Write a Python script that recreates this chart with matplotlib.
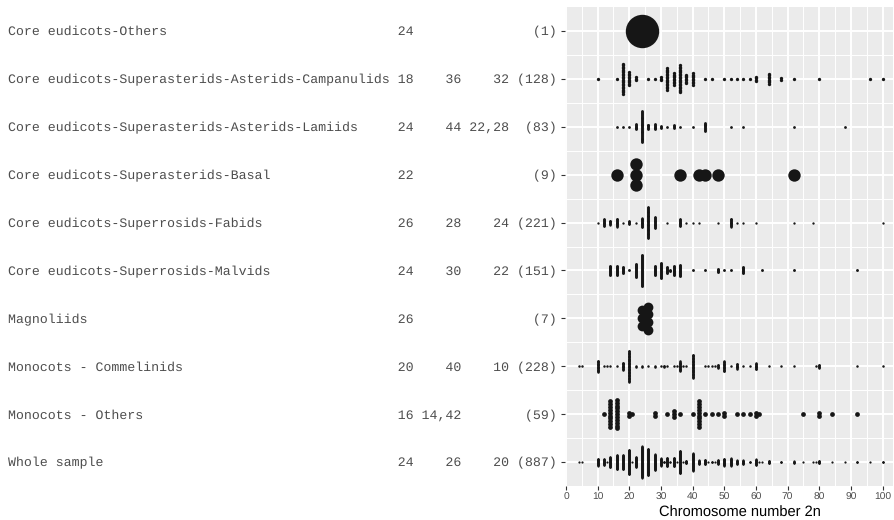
import numpy as np
import matplotlib.pyplot as plt

plt.rcParams['text.hinting'] = 'no_hinting'

# chromosome numbers (2n) and number of species at each, per clade
others_2n = [24]
others_n = [1]

campanulids_2n = [10, 16, 18, 20, 22, 26, 28, 30, 32, 34, 36, 38, 40, 44, 46, 50, 52, 54,
                  56, 58, 60, 64, 68, 72, 80, 96, 100]
campanulids_n = [1, 1, 22, 10, 3, 1, 1, 3, 16, 9, 20, 7, 9, 1, 1, 1, 1, 1,
                 1, 1, 4, 8, 2, 1, 1, 1, 1]

lamiids_2n = [16, 18, 20, 22, 24, 26, 28, 30, 32, 34, 36, 40, 44, 52, 56, 72, 88]
lamiids_n = [1, 1, 1, 7, 36, 6, 7, 3, 1, 4, 1, 1, 10, 1, 1, 1, 1]

basal_2n = [16, 22, 36, 42, 44, 48, 72]
basal_n = [1, 3, 1, 1, 1, 1, 1]

fabids_2n = [10, 12, 14, 16, 18, 20, 22, 24, 26, 28, 32, 36, 38, 40, 42, 48, 52, 54,
             56, 60, 72, 78, 100]
fabids_n = [1, 17, 10, 19, 1, 8, 1, 21, 70, 26, 1, 17, 1, 1, 1, 1, 19, 1,
            1, 1, 1, 1, 1]

malvids_2n = [14, 16, 18, 20, 22, 24, 28, 30, 32, 33, 34, 36, 40, 44, 48, 50, 52, 56,
              62, 72, 92]
malvids_n = [11, 10, 7, 1, 15, 32, 10, 16, 7, 2, 10, 12, 1, 1, 4, 1, 1, 7,
             1, 1, 1]

magnoliids_2n = [24, 26]
magnoliids_n = [3, 4]

commelinids_2n = [4, 5, 10, 12, 13, 14, 16, 18, 20, 22, 24, 26, 28, 30, 31, 32, 34, 35,
                  36, 37, 38, 40, 44, 45, 46, 47, 48, 50, 52, 54, 56, 58, 60, 64, 68,
                  72, 79, 80, 92, 100]
commelinids_n = [1, 1, 20, 1, 1, 1, 1, 13, 53, 2, 2, 1, 2, 1, 3, 1, 1, 1,
                 17, 1, 1, 40, 1, 1, 1, 1, 6, 18, 1, 9, 1, 1, 11, 1, 1,
                 1, 1, 6, 1, 1]

monocots_other_2n = [12, 14, 16, 20, 21, 28, 32, 34, 36, 40, 42, 44, 46, 48, 50, 54, 56,
                     58, 60, 61, 75, 80, 84, 92]
monocots_other_n = [1, 10, 11, 2, 1, 2, 1, 3, 1, 1, 10, 1, 1, 1, 2, 1, 1,
                    1, 2, 1, 1, 2, 1, 1]

group_names = ["Core eudicots-Others",
               "Core eudicots-Superasterids-Asterids-Campanulids",
               "Core eudicots-Superasterids-Asterids-Lamiids",
               "Core eudicots-Superasterids-Basal",
               "Core eudicots-Superrosids-Fabids",
               "Core eudicots-Superrosids-Malvids",
               "Magnoliids",
               "Monocots - Commelinids",
               "Monocots - Others",
               "Whole sample"]

# most frequent, second and third most frequent 2n per group
mode_1st = ["24", "18", "24", "22", "26", "24", "26", "20", "16", "24"]
mode_2nd = ["", "36", "44", "", "28", "30", "", "40", "14,42", "26"]
mode_3rd = ["", "32", "22,28", "", "24", "22", "", "10", "", "20"]

groups = [(others_2n, others_n), (campanulids_2n, campanulids_n),
          (lamiids_2n, lamiids_n), (basal_2n, basal_n),
          (fabids_2n, fabids_n), (malvids_2n, malvids_n),
          (magnoliids_2n, magnoliids_n), (commelinids_2n, commelinids_n),
          (monocots_other_2n, monocots_other_n)]

# whole sample = all clades pooled
pooled = {}
for vals, cnts in groups:
    for v, c in zip(vals, cnts):
        pooled[v] = pooled.get(v, 0) + c
whole_2n = sorted(pooled)
whole_n = [pooled[v] for v in whole_2n]
groups.append((whole_2n, whole_n))

labels = []
for i, (vals, cnts) in enumerate(groups):
    total = "(%d)" % sum(cnts)
    labels.append(f"{group_names[i]:<48} {mode_1st[i]:>2} {mode_2nd[i]:>5} {mode_3rd[i]:>5} {total:>5}")

dpi = 100
fig = plt.figure(figsize=(8.94, 5.20), dpi=dpi)
ax = fig.add_axes([565 / 894, 1 - 486 / 520, 328 / 894, 479 / 520])
ax.set_xlim(-0.3, 103.3)
ax.set_ylim(10.5, 0.5)

# each row is scaled so its tallest stack is the same height
px_per_row = 479 / 10
stack_px = 31.5
for row, (vals, cnts) in enumerate(groups, start=1):
    step_px = stack_px / max(cnts)
    dot_px = step_px + 1.9
    xs, ys = [], []
    for v, c in zip(vals, cnts):
        offs = (np.arange(c) - (c - 1) / 2) * step_px / px_per_row
        xs.extend([v] * c)
        ys.extend(row + offs)
    ax.scatter(xs, ys, s=(dot_px * 72 / dpi) ** 2, color='#161616', linewidths=0, zorder=3)

ax.set_facecolor('#EBEBEB')
for s in ax.spines.values():
    s.set_visible(False)
ax.set_xticks(range(0, 101, 10))
ax.set_xticks(range(5, 100, 10), minor=True)
ax.set_yticks(range(1, 11))
ax.set_yticks(np.arange(1.5, 10, 1), minor=True)
ax.grid(which='major', color='white', linewidth=1.4)
ax.grid(which='minor', color='white', linewidth=0.7)
ax.set_axisbelow(True)

ax.tick_params(which='minor', length=0)
ax.tick_params(which='major', length=2.9, width=0.8, color='#333333')
ax.tick_params(axis='x', pad=2, labelsize=7.4, labelcolor='#4D4D4D')
ax.tick_params(axis='y', pad=2.8, labelcolor='#4D4D4D')
ax.set_yticklabels(labels, fontfamily='Liberation Mono', fontsize=9.5)
for t in ax.get_xticklabels():
    t.set_fontfamily('Liberation Sans')
ax.set_xlabel("Chromosome number 2n", fontsize=10.5, fontfamily='Liberation Sans',
              color='black')
ax.xaxis.set_label_coords(0.532, -0.041)

plt.savefig("out.png", dpi=dpi)
